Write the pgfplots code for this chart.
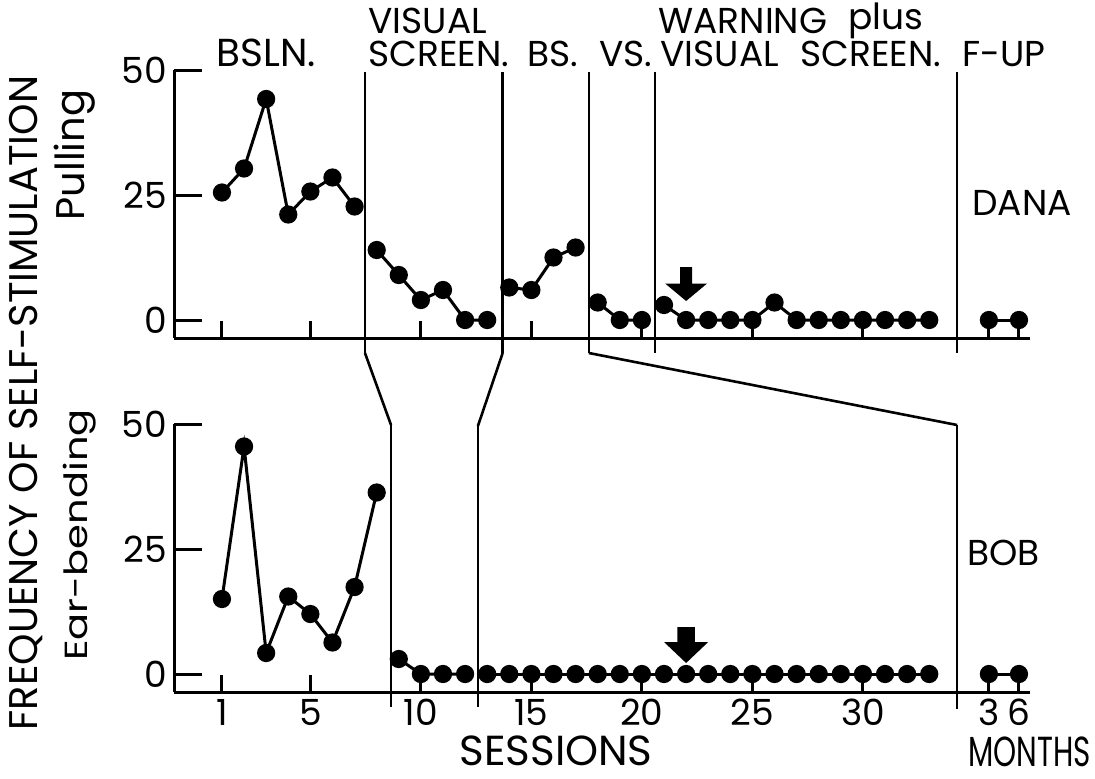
\documentclass[border=0pt]{standalone}
\usepackage{fontspec}
\setmainfont{Poppins}
\usepackage{pgfplots}
\pgfplotsset{compat=1.18}

\pgfplotsset{
  mb/.style={
    scale only axis, width=428pt, height=134pt,
    xmin=-1.17, xmax=37.56, ymin=-3.6, ymax=50,
    axis x line=bottom, axis y line=left,
    axis line style={-, line width=1.5pt},
    tick align=inside,
    ytick={0,25,50},
    xtick={1,5,10,15,20,25,30,35.7,37.06},
    xtick style={/pgfplots/major tick length=8.5pt, line width=1.5pt, black},
    ytick style={/pgfplots/major tick length=14pt, line width=1.5pt, black},
    /pgf/number format/assume math mode=true,
    ticklabel style={font=\fontsize{18}{20}\selectfont},
    clip=false,
  },
}
\tikzset{
  phase/.style={line width=1.3pt},
  pt/.style={black, solid, line width=1.5pt, mark=*, mark size=3.8pt, mark options={solid, fill=black}},
}

\begin{document}
\begin{tikzpicture}[font=\fontsize{18}{20}\selectfont]

% DANA (pulling)
\begin{axis}[mb, at={(0,0)}, anchor=south west, xticklabels={}]
  \addplot[pt] coordinates {(1,25.5)(2,30.3)(3,44.2)(4,21.1)(5,25.7)(6,28.5)(7,22.7)};
  \addplot[pt] coordinates {(8,14)(9,9)(10,4)(11,6)(12,0)(13,0)};
  \addplot[pt] coordinates {(14,6.5)(15,6)(16,12.5)(17,14.5)};
  \addplot[pt] coordinates {(18,3.5)(19,0)(20,0)};
  \addplot[pt] coordinates {(21,3)(22,0)(23,0)(24,0)(25,0)(26,3.5)(27,0)(28,0)(29,0)(30,0)(31,0)(32,0)(33,0)};
  \addplot[pt] coordinates {(35.7,0)(37.06,0)};
  \draw[phase] (axis cs:7.47,49.6) -- (axis cs:7.47,-6.6);
  \draw[phase] (axis cs:13.7,49.6) -- (axis cs:13.7,-6.6);
  \draw[phase] (axis cs:17.6,49.6) -- (axis cs:17.6,-6.6);
  \draw[phase] (axis cs:20.6,49.6) -- (axis cs:20.6,-6.6);
  \draw[phase] (axis cs:34.26,49.6) -- (axis cs:34.26,-6.6);
  \coordinate (a1) at (axis cs:7.47,-6.6);
  \coordinate (b1) at (axis cs:13.7,-6.6);
  \coordinate (c1) at (axis cs:17.6,-6.6);
  \fill (axis cs:21.73,10.6) -- (axis cs:22.27,10.6) -- (axis cs:22.27,7.3) -- (axis cs:22.95,7.3)
     -- (axis cs:22,3.8) -- (axis cs:21.05,7.3) -- (axis cs:21.73,7.3) -- cycle;
\end{axis}

% BOB (ear-bending)
\begin{axis}[mb, at={(0,-177pt)}, anchor=south west, xticklabels={1,5,10,15,20,25,30,3,6}]
  \addplot[pt] coordinates {(1,15)(2,45.5)(3,4.2)(4,15.5)(5,12)(6,6.3)(7,17.4)(8,36.3)};
  \addplot[pt] coordinates {(9,3)(10,0)(11,0)(12,0)};
  \addplot[pt] coordinates {(13,0)(14,0)(15,0)(16,0)(17,0)(18,0)(19,0)(20,0)(21,0)(22,0)(23,0)
     (24,0)(25,0)(26,0)(27,0)(28,0)(29,0)(30,0)(31,0)(32,0)(33,0)};
  \addplot[pt] coordinates {(35.7,0)(37.06,0)};
  \draw[phase] (axis cs:8.65,49.8) -- (axis cs:8.65,-6.6);
  \draw[phase] (axis cs:12.58,49.6) -- (axis cs:12.58,-6.6);
  \draw[phase] (axis cs:34.26,49.8) -- (axis cs:34.26,-7);
  \coordinate (a2) at (axis cs:8.65,49.8);
  \coordinate (b2) at (axis cs:12.58,49.6);
  \coordinate (c2) at (axis cs:34.26,49.8);
  \fill (axis cs:21.6,9.4) -- (axis cs:22.4,9.4) -- (axis cs:22.4,6.4) -- (axis cs:23,6.4)
     -- (axis cs:22,2.2) -- (axis cs:21,6.4) -- (axis cs:21.6,6.4) -- cycle;
\end{axis}

% multiple-baseline connectors between the panels
\draw[phase] (a1) -- (a2);
\draw[phase] (b1) -- (b2);
\draw[phase] (c1) -- (c2);

% labels, placed in pixel coordinates of the reference
\begin{scope}[x=0.5pt, y=-0.5pt, shift={(-87pt,169pt)}, every node/.style={inner sep=0pt}]
  \node[font=\fontsize{19.5}{21}\selectfont] at (266,53) {BSLN.};
  \node[anchor=west] at (368,21) {VISUAL};
  \node[anchor=west] at (368,54) {SCREEN.};
  \node at (553,54) {BS.};
  \node at (626,54) {VS.};
  \node[anchor=west] at (658,21) {WARNING};
  \node[anchor=west] at (848,21) {plus};
  \node[anchor=west] at (660,54) {VISUAL\hspace{0.6em}SCREEN.};
  \node[anchor=west] at (962,54) {F-UP};
  \node[anchor=west] at (972,203) {DANA};
  \node[anchor=west] at (967,553) {BOB};
  \node[font=\fontsize{21}{23}\selectfont] at (556,751) {SESSIONS};
  \node[font=\fontsize{21}{23}\selectfont, xscale=0.7, anchor=east] at (1091,752) {MONTHS};
  \node[rotate=90, font=\fontsize{20}{22}\selectfont] at (26,403) {FREQUENCY OF SELF-STIMULATION};
  \node[rotate=90, font=\fontsize{20}{22}\selectfont] at (75,155) {Pulling};
  \node[rotate=90, yscale=0.8, font=\fontsize{20}{22}\selectfont] at (80,535) {Ear-bending};
  \pgfresetboundingbox
  \path (0,0) rectangle (1095,778);
\end{scope}
\end{tikzpicture}
\end{document}
